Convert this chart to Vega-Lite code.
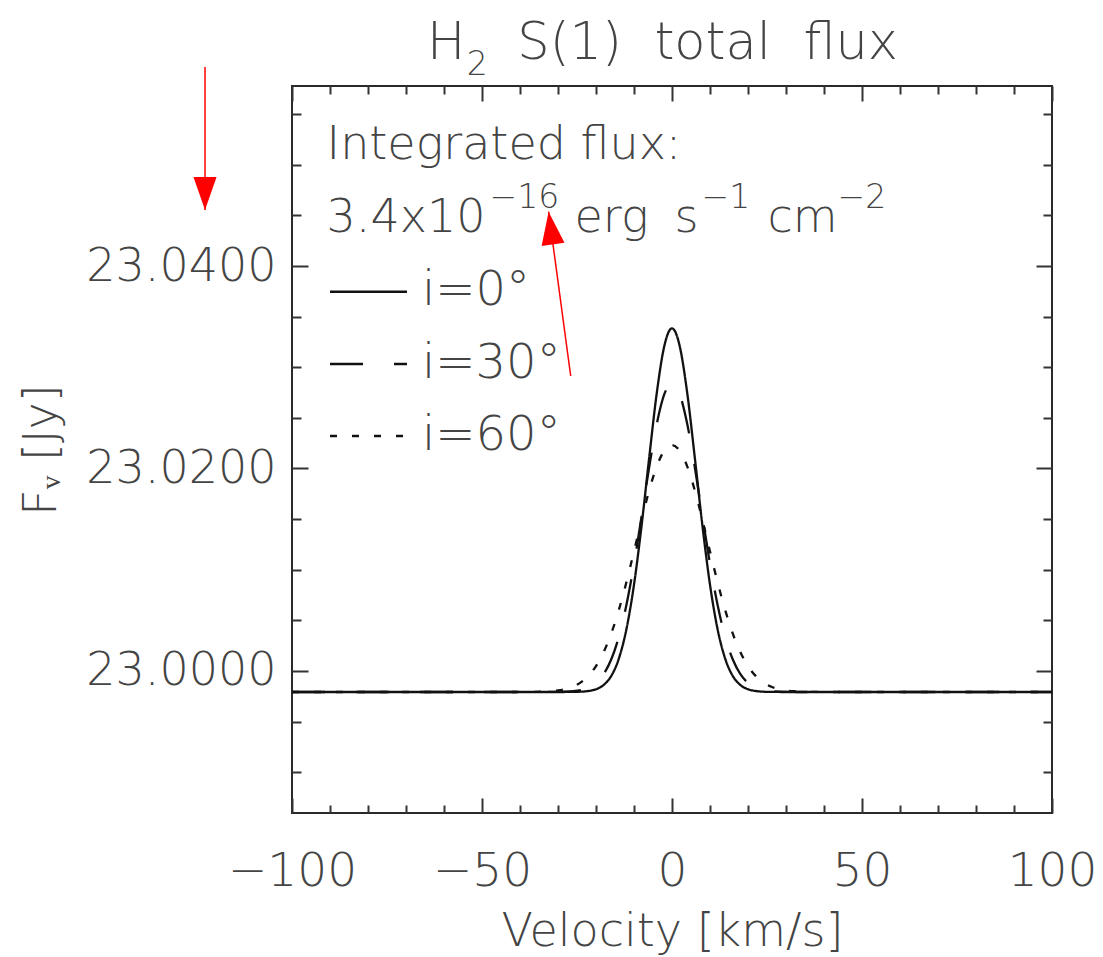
{
  "$schema": "https://vega.github.io/schema/vega-lite/v6.json",
  "width": 760,
  "height": 727,
  "autosize": {"type": "none"},
  "padding": {"left": 292, "top": 86, "right": 51, "bottom": 144},
  "background": "white",
  "config": {
    "view": {"stroke": "#2a2a2a", "strokeWidth": 2},
    "font": "DejaVu Sans",
    "axis": {"labelFont": "DejaVu Sans", "titleFont": "DejaVu Sans", "grid": false, "domain": false}
  },
  "datasets": {
    "curves": [
      {"v": -100, "f": 22.997926, "i": "60"}, {"v": -42, "f": 22.997926, "i": "60"},
      {"v": -40, "f": 22.997929, "i": "60"}, {"v": -38, "f": 22.997933, "i": "60"},
      {"v": -36, "f": 22.997942, "i": "60"}, {"v": -34, "f": 22.997962, "i": "60"},
      {"v": -32, "f": 22.998002, "i": "60"}, {"v": -30, "f": 22.998079, "i": "60"},
      {"v": -28, "f": 22.99822, "i": "60"}, {"v": -26, "f": 22.998467, "i": "60"},
      {"v": -24, "f": 22.998876, "i": "60"}, {"v": -22, "f": 22.999521, "i": "60"},
      {"v": -20, "f": 23.000487, "i": "60"}, {"v": -18, "f": 23.001856, "i": "60"},
      {"v": -16, "f": 23.003691, "i": "60"}, {"v": -14, "f": 23.006011, "i": "60"},
      {"v": -12, "f": 23.008763, "i": "60"}, {"v": -10, "f": 23.011812, "i": "60"},
      {"v": -8, "f": 23.014935, "i": "60"}, {"v": -6, "f": 23.017842, "i": "60"},
      {"v": -4, "f": 23.020218, "i": "60"}, {"v": -2, "f": 23.021777, "i": "60"},
      {"v": 0, "f": 23.022321, "i": "60"},
      {"v": 2, "f": 23.021777, "i": "60"}, {"v": 4, "f": 23.020218, "i": "60"},
      {"v": 6, "f": 23.017842, "i": "60"}, {"v": 8, "f": 23.014935, "i": "60"},
      {"v": 10, "f": 23.011812, "i": "60"}, {"v": 12, "f": 23.008763, "i": "60"},
      {"v": 14, "f": 23.006011, "i": "60"}, {"v": 16, "f": 23.003691, "i": "60"},
      {"v": 18, "f": 23.001856, "i": "60"}, {"v": 20, "f": 23.000487, "i": "60"},
      {"v": 22, "f": 22.999521, "i": "60"}, {"v": 24, "f": 22.998876, "i": "60"},
      {"v": 26, "f": 22.998467, "i": "60"}, {"v": 28, "f": 22.99822, "i": "60"},
      {"v": 30, "f": 22.998079, "i": "60"}, {"v": 32, "f": 22.998002, "i": "60"},
      {"v": 34, "f": 22.997962, "i": "60"}, {"v": 36, "f": 22.997942, "i": "60"},
      {"v": 38, "f": 22.997933, "i": "60"}, {"v": 40, "f": 22.997929, "i": "60"},
      {"v": 42, "f": 22.997926, "i": "60"}, {"v": 100, "f": 22.997926, "i": "60"},

      {"v": -100, "f": 22.997926, "i": "30"}, {"v": -34, "f": 22.997926, "i": "30"},
      {"v": -32, "f": 22.99793, "i": "30"}, {"v": -30, "f": 22.997937, "i": "30"},
      {"v": -28, "f": 22.997957, "i": "30"}, {"v": -26, "f": 22.998006, "i": "30"},
      {"v": -24, "f": 22.998118, "i": "30"}, {"v": -22, "f": 22.998358, "i": "30"},
      {"v": -20, "f": 22.99883, "i": "30"}, {"v": -18, "f": 22.99969, "i": "30"},
      {"v": -16, "f": 23.001135, "i": "30"}, {"v": -14, "f": 23.003365, "i": "30"},
      {"v": -12, "f": 23.006518, "i": "30"}, {"v": -10, "f": 23.010578, "i": "30"},
      {"v": -8, "f": 23.015291, "i": "30"}, {"v": -6, "f": 23.02014, "i": "30"},
      {"v": -4, "f": 23.024413, "i": "30"}, {"v": -2, "f": 23.027361, "i": "30"},
      {"v": 0, "f": 23.028415, "i": "30"},
      {"v": 2, "f": 23.027361, "i": "30"}, {"v": 4, "f": 23.024413, "i": "30"},
      {"v": 6, "f": 23.02014, "i": "30"}, {"v": 8, "f": 23.015291, "i": "30"},
      {"v": 10, "f": 23.010578, "i": "30"}, {"v": 12, "f": 23.006518, "i": "30"},
      {"v": 14, "f": 23.003365, "i": "30"}, {"v": 16, "f": 23.001135, "i": "30"},
      {"v": 18, "f": 22.99969, "i": "30"}, {"v": 20, "f": 22.99883, "i": "30"},
      {"v": 22, "f": 22.998358, "i": "30"}, {"v": 24, "f": 22.998118, "i": "30"},
      {"v": 26, "f": 22.998006, "i": "30"}, {"v": 28, "f": 22.997957, "i": "30"},
      {"v": 30, "f": 22.997937, "i": "30"}, {"v": 32, "f": 22.99793, "i": "30"},
      {"v": 34, "f": 22.997926, "i": "30"}, {"v": 100, "f": 22.997926, "i": "30"},

      {"v": -100, "f": 22.997926, "i": "0"}, {"v": -30, "f": 22.997926, "i": "0"},
      {"v": -28, "f": 22.997929, "i": "0"}, {"v": -26, "f": 22.997935, "i": "0"},
      {"v": -24, "f": 22.997958, "i": "0"}, {"v": -22, "f": 22.998024, "i": "0"},
      {"v": -20, "f": 22.998198, "i": "0"}, {"v": -18, "f": 22.998614, "i": "0"},
      {"v": -16, "f": 22.999504, "i": "0"}, {"v": -14, "f": 23.001209, "i": "0"},
      {"v": -12, "f": 23.004119, "i": "0"}, {"v": -10, "f": 23.008523, "i": "0"},
      {"v": -8, "f": 23.014372, "i": "0"}, {"v": -6, "f": 23.021073, "i": "0"},
      {"v": -4, "f": 23.027474, "i": "0"}, {"v": -2, "f": 23.032135, "i": "0"},
      {"v": 0, "f": 23.033847, "i": "0"},
      {"v": 2, "f": 23.032135, "i": "0"}, {"v": 4, "f": 23.027474, "i": "0"},
      {"v": 6, "f": 23.021073, "i": "0"}, {"v": 8, "f": 23.014372, "i": "0"},
      {"v": 10, "f": 23.008523, "i": "0"}, {"v": 12, "f": 23.004119, "i": "0"},
      {"v": 14, "f": 23.001209, "i": "0"}, {"v": 16, "f": 22.999504, "i": "0"},
      {"v": 18, "f": 22.998614, "i": "0"}, {"v": 20, "f": 22.998198, "i": "0"},
      {"v": 22, "f": 22.998024, "i": "0"}, {"v": 24, "f": 22.997958, "i": "0"},
      {"v": 26, "f": 22.997935, "i": "0"}, {"v": 28, "f": 22.997929, "i": "0"},
      {"v": 30, "f": 22.997926, "i": "0"}, {"v": 100, "f": 22.997926, "i": "0"}
    ],
    "legendLines": [
      {"x1": -90, "x2": -69.74, "y": 23.037462, "i": "0"},
      {"x1": -90, "x2": -69.74, "y": 23.030321, "i": "30"},
      {"x1": -90, "x2": -69.74, "y": 23.02321, "i": "60"}
    ],
    "notes": [
      {"t": "Integrated flux:", "x": -90.9, "y": 23.050568},
      {"t": "3.4x10", "x": -90.9, "y": 23.043328},
      {"t": "erg", "x": -25.66, "y": 23.043328},
      {"t": "s", "x": 0.66, "y": 23.043328},
      {"t": "cm", "x": 25.13, "y": 23.043328}
    ],
    "sups": [
      {"t": "−16", "x": -48.03, "y": 23.045699},
      {"t": "−1", "x": 7.76, "y": 23.045699},
      {"t": "−2", "x": 43.55, "y": 23.045699},
      {"t": "2", "x": -54.03, "y": 23.058864}
    ],
    "incl": [
      {"t": "i=0°", "x": -65.79, "y": 23.036148},
      {"t": "i=30°", "x": -65.79, "y": 23.028968},
      {"t": "i=60°", "x": -65.79, "y": 23.021827}
    ],
    "titleParts": [
      {"t": "H", "x": -64.47, "y": 23.060444},
      {"t": "S(1)\u00a0 total\u00a0 flux", "x": -40.7, "y": 23.060444}
    ],
    "arrows": [
      {"x1": -122.89, "y1": 23.059654, "x2": -122.89, "y2": 23.045531},
      {"x1": -26.66, "y1": 23.029136, "x2": -32.47, "y2": 23.045363}
    ],
    "head1": [{"x": -122.89, "y": 23.047161}],
    "head2": [{"x": -31.887, "y": 23.043748}]
  },
  "resolve": {"axis": {"x": "independent", "y": "independent"}},
  "layer": [
    {
      "data": {"name": "curves"},
      "mark": {"type": "line", "strokeWidth": 2.3, "interpolate": "monotone", "strokeCap": "butt"},
      "encoding": {
        "x": {
          "field": "v", "type": "quantitative",
          "scale": {"domain": [-100, 100], "nice": false, "zero": false},
          "axis": {
            "orient": "bottom", "values": [-100, -50, 0, 50, 100], "ticks": false,
            "labelFontSize": 47, "labelFontWeight": 300, "labelColor": "#444444",
            "labelBaseline": "alphabetic", "labelPadding": 72, "labelFlush": false, "labelOverlap": false, "labelLimit": 0,
            "title": "Velocity [km/s]", "titleFontSize": 46, "titleFontWeight": 300, "titleColor": "#444444",
            "titleBaseline": "alphabetic", "titleY": 132
          }
        },
        "y": {
          "field": "f", "type": "quantitative",
          "scale": {"domain": [22.985975, 23.057778], "nice": false, "zero": false},
          "axis": {
            "orient": "left", "values": [23, 23.02, 23.04], "format": ".4f", "ticks": false,
            "labelFontSize": 46, "labelFontWeight": 300, "labelColor": "#444444",
            "labelPadding": 16, "labelBaseline": "middle", "labelOverlap": false, "labelLimit": 0,
            "title": "Fᵥ [Jy]", "titleFontSize": 46, "titleFontWeight": 300, "titleColor": "#444444",
            "titleAngle": 270, "titleAlign": "center", "titleBaseline": "alphabetic",
            "titleX": -237, "titleY": 363.5
          }
        },
        "strokeDash": {
          "field": "i", "type": "nominal",
          "scale": {"domain": ["0", "30", "60"], "range": [[1, 0], [33, 31], [7, 15]]},
          "legend": null
        },
        "color": {"value": "#111111"}
      }
    },
    {
      "data": {"name": "legendLines"},
      "mark": {"type": "rule", "strokeWidth": 2.5, "strokeCap": "butt", "color": "#111111"},
      "encoding": {
        "x": {
          "field": "x1", "type": "quantitative",
          "scale": {"domain": [-100, 100], "nice": false, "zero": false},
          "axis": {"orient": "bottom", "values": [-100, -50, 0, 50, 100], "labels": false, "title": null,
                   "ticks": true, "tickSize": -15, "tickWidth": 2, "tickColor": "#333333"}
        },
        "x2": {"field": "x2"},
        "y": {
          "field": "y", "type": "quantitative",
          "scale": {"domain": [22.985975, 23.057778], "nice": false, "zero": false},
          "axis": {"orient": "left", "values": [23, 23.02, 23.04], "labels": false, "title": null,
                   "ticks": true, "tickSize": -16, "tickWidth": 2, "tickColor": "#333333"}
        },
        "strokeDash": {
          "field": "i", "type": "nominal",
          "scale": {"domain": ["0", "30", "60"], "range": [[1, 0], [33, 31], [7, 15]]},
          "legend": null
        }
      }
    },
    {
      "data": {"name": "notes"},
      "mark": {"type": "text", "align": "left", "baseline": "alphabetic", "fontSize": 46, "fontWeight": 300,
               "font": "DejaVu Sans", "color": "#444444", "clip": false},
      "encoding": {
        "x": {
          "field": "x", "type": "quantitative",
          "scale": {"domain": [-100, 100], "nice": false, "zero": false},
          "axis": {"orient": "bottom", "values": [-90, -80, -70, -60, -40, -30, -20, -10, 10, 20, 30, 40, 60, 70, 80, 90],
                   "labels": false, "title": null, "ticks": true, "tickSize": -8, "tickWidth": 2, "tickColor": "#333333"}
        },
        "y": {
          "field": "y", "type": "quantitative",
          "scale": {"domain": [22.985975, 23.057778], "nice": false, "zero": false},
          "axis": {"orient": "left", "values": [22.99, 22.995, 23.005, 23.01, 23.015, 23.025, 23.03, 23.035, 23.045, 23.05, 23.055],
                   "labels": false, "title": null, "ticks": true, "tickSize": -9, "tickWidth": 2, "tickColor": "#333333"}
        },
        "text": {"field": "t", "type": "nominal"}
      }
    },
    {
      "data": {"name": "sups"},
      "mark": {"type": "text", "align": "left", "baseline": "alphabetic", "fontSize": 33, "fontWeight": 300,
               "font": "DejaVu Sans", "color": "#444444", "clip": false},
      "encoding": {
        "x": {
          "field": "x", "type": "quantitative",
          "scale": {"domain": [-100, 100], "nice": false, "zero": false},
          "axis": {"orient": "top", "values": [-100, -50, 0, 50, 100], "labels": false, "title": null,
                   "ticks": true, "tickSize": -15, "tickWidth": 2, "tickColor": "#333333"}
        },
        "y": {
          "field": "y", "type": "quantitative",
          "scale": {"domain": [22.985975, 23.057778], "nice": false, "zero": false},
          "axis": {"orient": "right", "values": [23, 23.02, 23.04], "labels": false, "title": null,
                   "ticks": true, "tickSize": -16, "tickWidth": 2, "tickColor": "#333333"}
        },
        "text": {"field": "t", "type": "nominal"}
      }
    },
    {
      "data": {"name": "incl"},
      "mark": {"type": "text", "align": "left", "baseline": "alphabetic", "fontSize": 48, "fontWeight": 300,
               "font": "DejaVu Sans", "color": "#444444", "clip": false},
      "encoding": {
        "x": {
          "field": "x", "type": "quantitative",
          "scale": {"domain": [-100, 100], "nice": false, "zero": false},
          "axis": {"orient": "top", "values": [-90, -80, -70, -60, -40, -30, -20, -10, 10, 20, 30, 40, 60, 70, 80, 90],
                   "labels": false, "title": null, "ticks": true, "tickSize": -8, "tickWidth": 2, "tickColor": "#333333"}
        },
        "y": {
          "field": "y", "type": "quantitative",
          "scale": {"domain": [22.985975, 23.057778], "nice": false, "zero": false},
          "axis": {"orient": "right", "values": [22.99, 22.995, 23.005, 23.01, 23.015, 23.025, 23.03, 23.035, 23.045, 23.05, 23.055],
                   "labels": false, "title": null, "ticks": true, "tickSize": -9, "tickWidth": 2, "tickColor": "#333333"}
        },
        "text": {"field": "t", "type": "nominal"}
      }
    },
    {
      "data": {"name": "titleParts"},
      "mark": {"type": "text", "align": "left", "baseline": "alphabetic", "fontSize": 51, "fontWeight": 300,
               "font": "DejaVu Sans", "color": "#444444", "clip": false},
      "encoding": {
        "x": {"field": "x", "type": "quantitative", "scale": {"domain": [-100, 100], "nice": false, "zero": false}, "axis": null},
        "y": {"field": "y", "type": "quantitative", "scale": {"domain": [22.985975, 23.057778], "nice": false, "zero": false}, "axis": null},
        "text": {"field": "t", "type": "nominal"}
      }
    },
    {
      "data": {"name": "arrows"},
      "mark": {"type": "rule", "color": "#ff0000", "strokeWidth": 1.5, "clip": false},
      "encoding": {
        "x": {"field": "x1", "type": "quantitative", "scale": {"domain": [-100, 100], "nice": false, "zero": false}, "axis": null},
        "y": {"field": "y1", "type": "quantitative", "scale": {"domain": [22.985975, 23.057778], "nice": false, "zero": false}, "axis": null},
        "x2": {"field": "x2"},
        "y2": {"field": "y2"}
      }
    },
    {
      "data": {"name": "head1"},
      "mark": {"type": "point", "shape": "M-0.7,-1L0.7,-1L0,1Z", "size": 1089, "filled": true,
               "color": "#ff0000", "opacity": 1, "strokeWidth": 0, "clip": false},
      "encoding": {
        "x": {"field": "x", "type": "quantitative", "scale": {"domain": [-100, 100], "nice": false, "zero": false}, "axis": null},
        "y": {"field": "y", "type": "quantitative", "scale": {"domain": [22.985975, 23.057778], "nice": false, "zero": false}, "axis": null}
      }
    },
    {
      "data": {"name": "head2"},
      "mark": {"type": "point", "shape": "M-0.7,1L0.7,1L0,-1Z", "size": 1089, "filled": true, "angle": 352.24,
               "color": "#ff0000", "opacity": 1, "strokeWidth": 0, "clip": false},
      "encoding": {
        "x": {"field": "x", "type": "quantitative", "scale": {"domain": [-100, 100], "nice": false, "zero": false}, "axis": null},
        "y": {"field": "y", "type": "quantitative", "scale": {"domain": [22.985975, 23.057778], "nice": false, "zero": false}, "axis": null}
      }
    }
  ]
}
